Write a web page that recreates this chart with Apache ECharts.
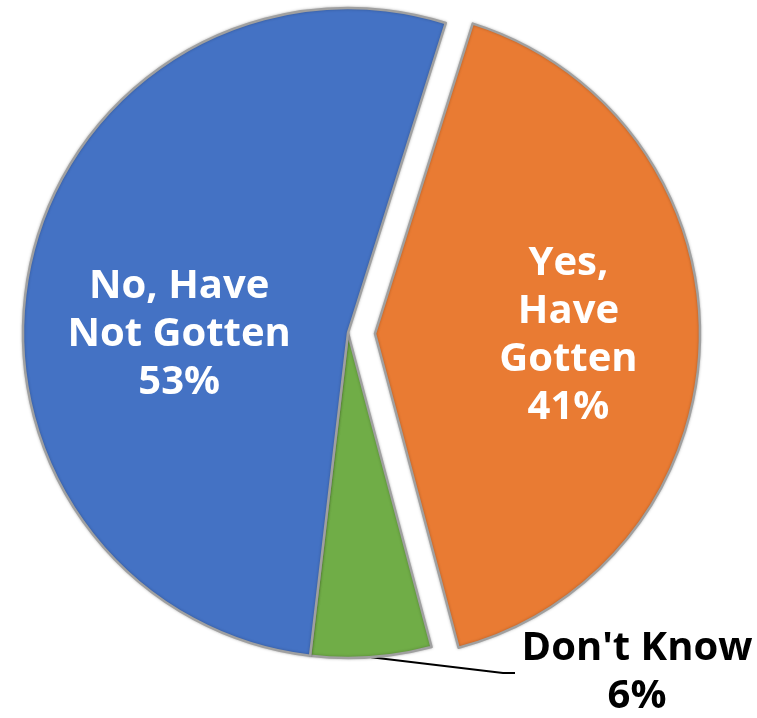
<!DOCTYPE html>
<html>
<head>
<meta charset="utf-8">
<script src="https://cdn.jsdelivr.net/npm/echarts@6/dist/echarts.min.js"></script>
<style>
html,body{margin:0;padding:0;background:#fff;}
#chart{width:757px;height:718px;}
</style>
</head>
<body>
<div id="chart"></div>
<script>
var categories = ['Yes,\nHave\nGotten', "Don't Know", 'No, Have\nNot Gotten'];
var values = [41, 6, 53];
var colors = ['#E97B33', '#70AD47', '#4472C4'];

var chart = echarts.init(document.getElementById('chart'));
var data = categories.map(function (c, i) {
  var item = { name: c, value: values[i], itemStyle: { color: colors[i] } };
  if (i === 0) item.selected = true;
  if (i === 1) {
    item.label = { position: 'outside', color: '#000' };
    item.labelLine = { show: true, lineStyle: { color: '#000', width: 2 } };
  }
  return item;
});

chart.setOption({
  animation: false,
  series: [{
    type: 'pie',
    center: [348, 333],
    radius: 325,
    startAngle: 72.5,
    clockwise: true,
    selectedMode: 'single',
    selectedOffset: 27,
    avoidLabelOverlap: false,
    itemStyle: {
      borderColor: '#a0a0a0', borderWidth: 2.5,
      shadowBlur: 3, shadowColor: 'rgba(0,0,0,0.25)'
    },
    label: {
      show: true,
      position: 'inside',
      formatter: '{b}\n{c}%',
      color: '#fff',
      fontFamily: 'Open Sans',
      fontWeight: 'bold',
      fontSize: 40,
      lineHeight: 48,
      align: 'center'
    },
    labelLine: { show: false, lineStyle: { color: '#000', width: 2 } },
    emphasis: { disabled: true },
    labelLayout: function (p) {
      if (p.dataIndex === 0) return { dx: 28, dy: -2 };
      if (p.dataIndex === 2) return { dx: -7, dy: 36 };
      if (p.dataIndex === 1) {
        var p0 = p.labelLinePoints ? p.labelLinePoints[0] : [368, 657];
        return {
          x: 637, y: 673, align: 'center', verticalAlign: 'middle',
          labelLinePoints: [p0, [503, 673], [515, 673]]
        };
      }
    },
    data: data
  }]
});
</script>
</body>
</html>
